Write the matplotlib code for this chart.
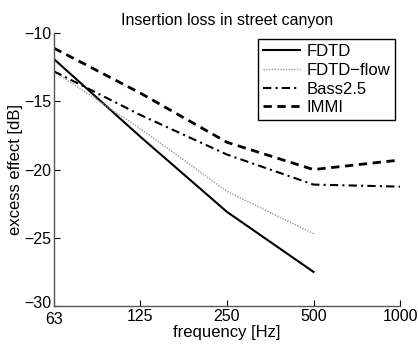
import matplotlib
matplotlib.use("Agg")
import matplotlib.pyplot as plt
from matplotlib.transforms import ScaledTranslation

freqs = [62.5, 125, 250, 500, 1000]
freq_labels = ["63", "125", "250", "500", "1000"]

fdtd_f = [62.5, 125, 250, 500]
fdtd = [-11.9, -17.6, -23.1, -27.5]
flow_f = [62.5, 125, 250, 500]
fdtd_flow = [-12.8, -17.0, -21.6, -24.7]
bass = [-12.8, -16.0, -18.9, -21.1, -21.25]
immi = [-11.1, -14.4, -18.0, -20.0, -19.3]

plt.rcParams['font.family'] = ['Liberation Sans', 'DejaVu Sans']

fig = plt.figure(figsize=(4.18, 3.45), dpi=100)
ax = fig.add_axes([0.129, 0.113, 0.828, 0.791])

ax.plot(fdtd_f, fdtd, color='black', lw=1.5, ls='-', label='FDTD')
ax.plot(flow_f, fdtd_flow, color='#999999', lw=1.0, ls=(0, (1, 1)), label='FDTD\u2212flow')
ax.plot(freqs, bass, color='black', lw=1.5, ls=(0, (4, 2, 1, 2)), label='Bass2.5')
ax.plot(freqs, immi, color='black', lw=2.0, ls=(0, (3, 2)), label='IMMI')

ax.set_xscale('log')
ax.set_xlim(62.5, 1000)
ax.set_ylim(-30, -10)
ax.set_xticks(freqs)
ax.set_xticklabels(freq_labels)
ax.minorticks_off()
ax.set_yticks([-30, -25, -20, -15, -10])
ax.set_yticklabels(['\u221230', '\u221225', '\u221220', '\u221215', '\u221210'])
ax.tick_params(direction='in', length=4, labelsize=11.5, width=0.8, colors='black')
ax.tick_params(axis='x', pad=2)
ax.tick_params(axis='y', pad=2)
for s in ['top', 'right']:
    ax.spines[s].set_visible(False)
for s in ['left', 'bottom']:
    ax.spines[s].set_color('#555555')
    ax.spines[s].set_linewidth(1.0)

# nudge the corner labels apart slightly (as in the reference they nearly touch)
ylab0 = ax.get_yticklabels()[0]
ylab0.set_transform(ylab0.get_transform() + ScaledTranslation(0, 3 / 72, fig.dpi_scale_trans))
xlab0 = ax.get_xticklabels()[0]
xlab0.set_transform(xlab0.get_transform() + ScaledTranslation(0, -2 / 72, fig.dpi_scale_trans))

ax.set_xlabel('frequency [Hz]', fontsize=12, labelpad=-1)
ax.set_ylabel('excess effect [dB]', fontsize=12, labelpad=1)
ax.set_title('Insertion loss in street canyon', fontsize=11.5, pad=6)

leg = ax.legend(loc='upper right', fontsize=12, fancybox=False, framealpha=1,
                edgecolor='black', handlelength=2.2, borderpad=0.3,
                labelspacing=0.22, handletextpad=0.4, borderaxespad=0.2,
                bbox_to_anchor=(0.995, 0.99))
leg.get_frame().set_linewidth(1.0)

fig.savefig('out.png', dpi=100)
